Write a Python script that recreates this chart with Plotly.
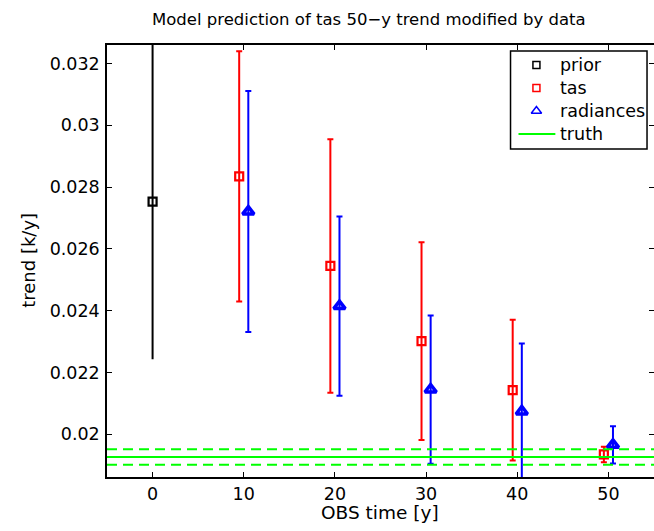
import plotly.graph_objects as go

# ---- data ----
obs_time = [10, 20, 30, 40, 50]
prior_x = [0]
prior_y = [0.02753]
prior_err = [0.0051]
tas_y = [0.02835, 0.02545, 0.02302, 0.02143, 0.01935]
tas_err = [0.00405, 0.0041, 0.0032, 0.00228, 0.00025]
rad_y = [0.02721, 0.02415, 0.02145, 0.02074, 0.01966]
rad_err = [0.0039, 0.0029, 0.0024, 0.0022, 0.0006]
truth = 0.01927
truth_err = 0.00025
x_range = [-5, 55]
y_range = [0.01862, 0.0326]
x_ticks = [0, 10, 20, 30, 40, 50]
y_ticks = [0.02, 0.022, 0.024, 0.026, 0.028, 0.03, 0.032]
y_tick_text = ["0.02", "0.022", "0.024", "0.026", "0.028", "0.03", "0.032"]
legend_labels = ["prior", "tas", "radiances", "truth"]

FONT = "DejaVu Sans"
W, H = 656, 531
L, R, T, B = 107, 0, 45, 54
PW, PH = W - L - R, H - T - B

def px(xp):
    return (xp - L) / PW

def py(yp):
    return (H - B - yp) / PH

fig = go.Figure()

fig.add_trace(go.Scatter(
    x=prior_x, y=prior_y, mode="markers",
    marker=dict(symbol="square-open", size=8, color="black", line=dict(width=2.2)),
    error_y=dict(type="data", array=prior_err, color="black", thickness=2, width=0),
    showlegend=False))

fig.add_trace(go.Scatter(
    x=[t - 0.5 for t in obs_time], y=tas_y, mode="markers",
    marker=dict(symbol="square-open", size=8, color="#ff0000", line=dict(width=2.2)),
    error_y=dict(type="data", array=tas_err, color="#ff0000", thickness=2, width=3),
    showlegend=False))

fig.add_trace(go.Scatter(
    x=[t + 0.5 for t in obs_time], y=rad_y, mode="markers",
    marker=dict(symbol="triangle-up-open", size=10, color="#0000ff", line=dict(width=3.5)),
    error_y=dict(type="data", array=rad_err, color="#0000ff", thickness=2, width=3),
    showlegend=False))

for val, dash in [(truth, "solid"), (truth + truth_err, "10px,6px"), (truth - truth_err, "10px,6px")]:
    fig.add_trace(go.Scatter(
        x=x_range, y=[val, val], mode="lines",
        line=dict(color="#00ff00", width=2, dash=dash),
        showlegend=False, hoverinfo="skip"))

# ---- custom legend (overlay axes in pixel coordinates) ----
lx0, lx1, ly0, ly1 = 512, 649, 51, 149
rows = [65, 88, 111, 134]
fig.add_shape(type="rect", xref="paper", yref="paper",
              x0=px(lx0), x1=px(lx1), y0=py(ly1), y1=py(ly0),
              line=dict(color="black", width=1.5), fillcolor="white", layer="below")
leg_styles = [
    dict(symbol="square-open", size=7, color="black", line=dict(width=1.5)),
    dict(symbol="square-open", size=7, color="#ff0000", line=dict(width=1.5)),
    dict(symbol="triangle-up-open", size=9, color="#0000ff", line=dict(width=1.5)),
]
for st, ry in zip(leg_styles, rows[:3]):
    fig.add_trace(go.Scatter(x=[538], y=[ry], mode="markers", marker=st,
                             xaxis="x2", yaxis="y2", showlegend=False, hoverinfo="skip"))
fig.add_trace(go.Scatter(x=[520, 557], y=[rows[3], rows[3]], mode="lines",
                         line=dict(color="#00ff00", width=2),
                         xaxis="x2", yaxis="y2", showlegend=False, hoverinfo="skip"))
for lab, ry in zip(legend_labels, rows):
    fig.add_annotation(text=lab, xref="paper", yref="paper", x=px(560), y=py(ry),
                       xanchor="left", yanchor="middle", showarrow=False,
                       font=dict(family=FONT, size=17.5, color="black"))

# ---- titles ----
fig.add_annotation(text="Model prediction of tas 50\u2212y trend modified by data",
                   xref="paper", yref="paper", x=px(370), y=py(20),
                   xanchor="center", yanchor="middle", showarrow=False,
                   font=dict(family=FONT, size=16.5, color="black"))
fig.add_annotation(text="OBS time [y]", xref="paper", yref="paper", x=px(381), y=py(512),
                   xanchor="center", yanchor="middle", showarrow=False,
                   font=dict(family=FONT, size=18.5, color="black"))
fig.add_annotation(text="trend [k/y]", xref="paper", yref="paper", x=px(27.5), y=py(260),
                   xanchor="center", yanchor="middle", showarrow=False, textangle=-90,
                   font=dict(family=FONT, size=18, color="black"))

axis_common = dict(showgrid=False, zeroline=False, showline=True, linecolor="black",
                   linewidth=1.5, mirror="ticks", ticks="inside", ticklen=5,
                   tickwidth=1, tickcolor="black",
                   tickfont=dict(family=FONT, size=17.5, color="black"))

fig.update_layout(
    width=W, height=H, autosize=False,
    margin=dict(l=L, r=R, t=T, b=B, pad=0),
    paper_bgcolor="white", plot_bgcolor="white",
    showlegend=False,
    xaxis=dict(range=x_range, tickvals=x_ticks, **axis_common),
    yaxis=dict(range=y_range, tickvals=y_ticks, ticktext=y_tick_text,
               ticklabelstandoff=2, **axis_common),
    xaxis2=dict(range=[L, W - R], overlaying="x", visible=False, domain=[0, 1]),
    yaxis2=dict(range=[H - B, T], overlaying="y", visible=False, domain=[0, 1]),
)

fig.write_html("out.html", config={"displayModeBar": False},
               post_script="document.body.style.margin='0';document.body.style.overflow='hidden';")
